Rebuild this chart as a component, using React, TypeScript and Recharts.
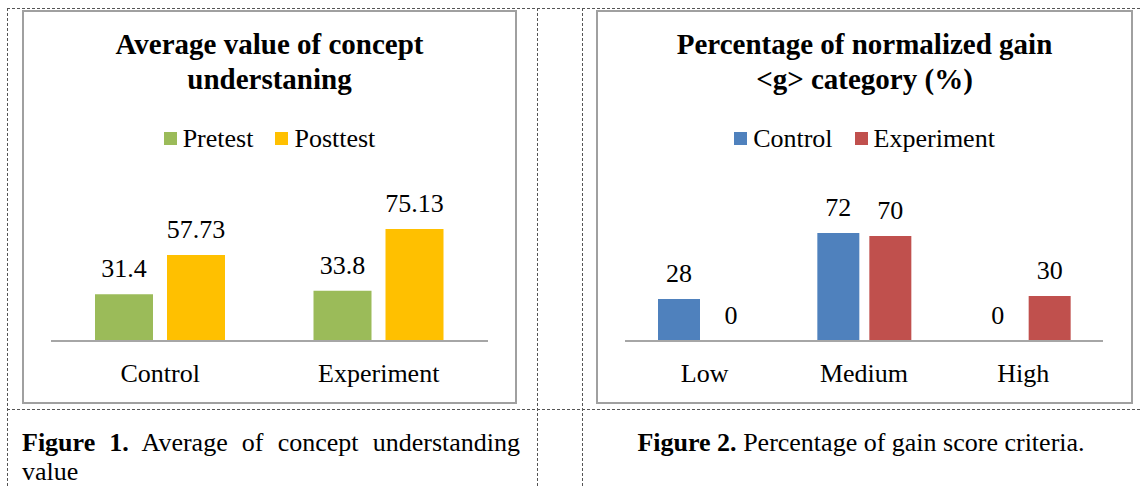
import React from 'react';
import { BarChart, Bar, XAxis, YAxis, Legend, LabelList, Rectangle } from 'recharts';

const SERIF = '"Liberation Serif", "Times New Roman", serif';

// --- Figure 1 data ---
const groups = ['Control', 'Experiment'];
const pretest = [31.4, 33.8];
const posttest = [57.73, 75.13];

// --- Figure 2 data ---
const gainCategories = ['Low', 'Medium', 'High'];
const controlGain = [28, 72, 0];
const experimentGain = [0, 70, 30];

const fig1Data = groups.map((name, i) => ({ name, Pretest: pretest[i], Posttest: posttest[i] }));
const fig2Data = gainCategories.map((name, i) => ({
  name,
  Control: controlGain[i],
  Experiment: experimentGain[i],
}));

// legend keeps the series order instead of the alphabetical one
const SquareLegend = ({ payload, order }: any) => {
  const items = [...(payload || [])].sort(
    (a: any, b: any) => order.indexOf(a.value) - order.indexOf(b.value)
  );
  return (
    <div
      style={{
        display: 'flex',
        justifyContent: 'center',
        gap: 22,
        fontFamily: SERIF,
        fontSize: 26,
        lineHeight: '29px',
        color: '#000',
      }}
    >
      {items.map((p: any) => (
        <span key={p.value} style={{ display: 'flex', alignItems: 'center' }}>
          <span style={{ width: 13, height: 13, background: p.color, marginRight: 6, display: 'inline-block' }} />
          {p.value}
        </span>
      ))}
    </div>
  );
};

// value label above each bar, drawn for zero values too
const TopLabel = (props: any) => {
  const { x, y, width, height, value } = props;
  if (value === undefined || value === null) return null;
  // zero bars get a 1px min size so they still carry a label; place it on the baseline
  const top = Number(value) === 0 ? Number(y) + Number(height) : Number(y);
  return (
    <text
      x={Number(x) + Number(width) / 2}
      y={top - 17}
      textAnchor="middle"
      fill="#000"
      fontSize={26}
      fontFamily={SERIF}
    >
      {value}
    </text>
  );
};

interface BoxProps {
  left: number;
  width: number;
  title: string[];
  data: any[];
  series: { key: string; color: string }[];
  barSize: number;
  barGap: number;
  margin: { top: number; right: number; bottom: number; left: number };
}

const ChartBox = ({ left, width, title, data, series, barSize, barGap, margin }: BoxProps) => {
  const inner = width - 4;
  const order = series.map((s) => s.key);
  return (
    <div
      style={{
        position: 'absolute',
        left,
        top: 10,
        width,
        height: 394,
        boxSizing: 'border-box',
        border: '2px solid #a0a0a0',
        background: '#fff',
      }}
    >
      <BarChart width={inner} height={390} data={data} margin={margin} barSize={barSize} barGap={barGap}>
        <XAxis
          dataKey="name"
          axisLine={{ stroke: '#a6a6a6', strokeWidth: 2 }}
          tickLine={false}
          tickMargin={17}
          tick={{ fill: '#000', fontSize: 26, fontFamily: SERIF }}
        />
        <YAxis hide domain={[0, 100]} />
        <Legend
          verticalAlign="middle"
          align="center"
          content={<SquareLegend order={order} />}
          wrapperStyle={{ top: 112, left: 0, width: '100%' }}
        />
        {series.map((s) => (
          <Bar
            key={s.key}
            dataKey={s.key}
            fill={s.color}
            minPointSize={1}
            isAnimationActive={false}
            shape={(p: any) => (p.payload && p.payload[s.key] > 0 ? <Rectangle {...p} /> : <g />)}
          >
            <LabelList dataKey={s.key} position="top" content={<TopLabel />} />
          </Bar>
        ))}
      </BarChart>
      <div
        style={{
          position: 'absolute',
          top: 15,
          left: 0,
          width: '100%',
          textAlign: 'center',
          fontFamily: SERIF,
          fontWeight: 'bold',
          fontSize: 29,
          lineHeight: '35px',
          color: '#000',
        }}
      >
        {title.map((t) => (
          <div key={t}>{t}</div>
        ))}
      </div>
    </div>
  );
};

const dash = '1px dashed #555';

export default function App() {
  return (
    <div
      style={{
        position: 'absolute',
        left: 0,
        top: 0,
        width: 1140,
        height: 486,
        overflow: 'hidden',
        background: '#fff',
        fontFamily: SERIF,
      }}
    >
      {/* table grid lines */}
      <div style={{ position: 'absolute', left: 7, top: 8, width: 1133, borderTop: dash }} />
      <div style={{ position: 'absolute', left: 7, top: 409, width: 1133, borderTop: dash }} />
      <div style={{ position: 'absolute', left: 7, top: 8, height: 478, borderLeft: dash }} />
      <div style={{ position: 'absolute', left: 537, top: 8, height: 478, borderLeft: dash }} />
      <div style={{ position: 'absolute', left: 582, top: 8, height: 478, borderLeft: dash }} />

      <ChartBox
        left={22}
        width={495}
        title={['Average value of concept', 'understaning']}
        data={fig1Data}
        series={[
          { key: 'Pretest', color: '#9bbb59' },
          { key: 'Posttest', color: '#ffc000' },
        ]}
        barSize={58}
        barGap={14}
        margin={{ top: 180, right: 27, bottom: 31, left: 27 }}
      />
      <ChartBox
        left={596}
        width={537}
        title={['Percentage of normalized gain', '<g> category (%)']}
        data={fig2Data}
        series={[
          { key: 'Control', color: '#4f81bd' },
          { key: 'Experiment', color: '#c0504d' },
        ]}
        barSize={42}
        barGap={10}
        margin={{ top: 179, right: 28, bottom: 31, left: 27 }}
      />

      {/* captions */}
      <div
        style={{
          position: 'absolute',
          left: 22,
          top: 428,
          width: 498,
          textAlign: 'justify',
          fontSize: 26,
          lineHeight: '29px',
          color: '#000',
        }}
      >
        <b>Figure 1.</b> Average of concept understanding value
      </div>
      <div
        style={{
          position: 'absolute',
          left: 582,
          top: 428,
          width: 558,
          textAlign: 'center',
          fontSize: 26,
          lineHeight: '29px',
          color: '#000',
        }}
      >
        <b>Figure 2.</b> Percentage of gain score criteria.
      </div>
    </div>
  );
}
